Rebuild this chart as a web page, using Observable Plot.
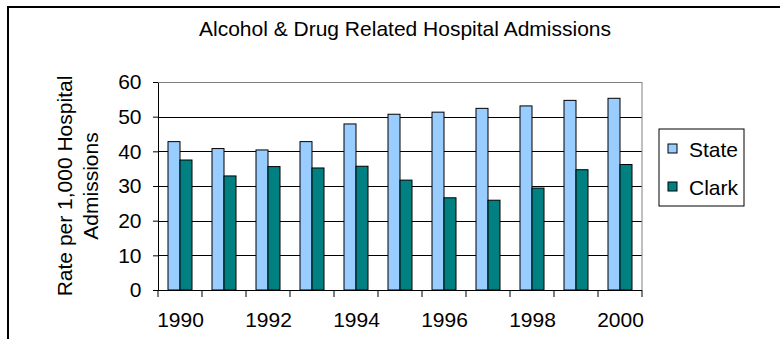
<!DOCTYPE html>
<html>
<head>
<meta charset="utf-8">
<script src="https://cdn.jsdelivr.net/npm/d3@7"></script>
<script src="https://cdn.jsdelivr.net/npm/@observablehq/plot@0.6"></script>
<style>
  html, body { margin: 0; padding: 0; background: #fff; }
  svg { display: block; }
</style>
</head>
<body>
<div id="chart"></div>
<script>
// Admission rates per 1,000 hospital admissions
const years = [1990, 1991, 1992, 1993, 1994, 1995, 1996, 1997, 1998, 1999, 2000];
const stateRates = [42.8, 40.8, 40.4, 42.8, 47.9, 50.7, 51.3, 52.4, 53.1, 54.7, 55.3];
const clarkRates = [37.5, 32.9, 35.6, 35.2, 35.7, 31.7, 26.6, 25.9, 29.4, 34.7, 36.2];
const series = ["State", "Clark"];
const seriesColors = ["#99ccff", "#008080"];
const yTicks = [0, 10, 20, 30, 40, 50, 60];
const xTickYears = [1990, 1992, 1994, 1996, 1998, 2000];
const titleText = "Alcohol & Drug Related Hospital Admissions";
const yTitleLines = ["Rate per 1,000 Hospital", "Admissions"];

const rows = years.flatMap((year, i) => [
  {year, series: "State", value: stateRates[i]},
  {year, series: "Clark", value: clarkRates[i]}
]);

const W = 780, H = 339;
const FONT = "Arial, 'Liberation Sans', sans-serif";

const chart = Plot.plot({
  width: W,
  height: H,
  marginLeft: 156,
  marginRight: 137,
  marginTop: 82,
  marginBottom: 49,
  style: {fontFamily: FONT, fontSize: "21px", color: "#000", background: "#fff"},
  fx: {
    domain: years, padding: 0, label: null, axis: "bottom",
    tickSize: 0, tickPadding: 22,
    tickFormat: d => xTickYears.includes(d) ? String(d) : ""
  },
  x: {domain: series, paddingInner: 0, paddingOuter: 0.75, axis: null},
  y: {domain: [0, 60], ticks: yTicks, tickSize: 5, tickPadding: 12, label: null, line: true},
  color: {domain: series, range: seriesColors},
  marks: [
    Plot.barY(rows, {fx: "year", x: "series", y: "value", fill: "series", stroke: "#000", strokeWidth: 1, inset: 0}),
    Plot.ruleY([0], {stroke: "#000"})
  ]
});

document.getElementById("chart").appendChild(chart);

// Decorations placed with the plot's own scales
const svg = d3.select(chart);
const fx = chart.scale("fx");
const y = chart.scale("y");
const bw = fx.bandwidth;
const left = fx.apply(years[0]);
const right = fx.apply(years[years.length - 1]) + bw;
const yBottom = y.apply(0), yTop = y.apply(60);

// horizontal gridlines behind the bars, as 1px strips; the top one is the grey plot-area edge
svg.insert("g", 'g[aria-label="bar"]')
  .selectAll("rect").data(yTicks.filter(v => v > 0)).join("rect")
  .attr("x", left).attr("width", right - left)
  .attr("y", d => Math.round(y.apply(d))).attr("height", 1)
  .attr("fill", d => d === 60 ? "#808080" : "#000");

// category boundary ticks below the axis
const bounds = years.map(d => fx.apply(d)).concat([right]);
svg.append("g").selectAll("line").data(bounds).join("line")
  .attr("x1", d => d).attr("x2", d => d)
  .attr("y1", yBottom).attr("y2", yBottom + 7)
  .attr("stroke", "#000");

// right edge of the plot area
svg.append("line")
  .attr("x1", right).attr("x2", right)
  .attr("y1", yTop).attr("y2", yBottom)
  .attr("stroke", "#808080");

// outer chart border
svg.append("rect")
  .attr("x", 8).attr("y", 7).attr("width", 820).attr("height", 420)
  .attr("fill", "none").attr("stroke", "#000").attr("stroke-width", 2);

// title
svg.append("text")
  .attr("x", 405).attr("y", 36)
  .attr("text-anchor", "middle")
  .attr("font-family", FONT).attr("font-size", 21)
  .attr("fill", "#000")
  .text(titleText);

// y-axis title, two lines
const yt = svg.append("g").attr("transform", `translate(72,${(yTop + yBottom) / 2}) rotate(-90)`);
yt.selectAll("text").data(yTitleLines).join("text")
  .attr("x", 0).attr("y", (d, i) => i * 26)
  .attr("text-anchor", "middle")
  .attr("font-family", FONT).attr("font-size", 21)
  .attr("fill", "#000")
  .text(d => d);

// legend
const lg = svg.append("g").attr("text-anchor", "start");
lg.append("rect")
  .attr("x", 659).attr("y", 129).attr("width", 85).attr("height", 77)
  .attr("fill", "#fff").attr("stroke", "#000");
const items = lg.selectAll("g.item").data(series).join("g")
  .attr("transform", (d, i) => `translate(668,${144 + i * 38})`);
items.append("rect")
  .attr("width", 9).attr("height", 9)
  .attr("fill", (d, i) => seriesColors[i]).attr("stroke", "#000");
items.append("text")
  .attr("x", 21).attr("y", 13)
  .attr("text-anchor", "start")
  .attr("font-family", FONT).attr("font-size", 21)
  .attr("fill", "#000")
  .text(d => d);
</script>
</body>
</html>
